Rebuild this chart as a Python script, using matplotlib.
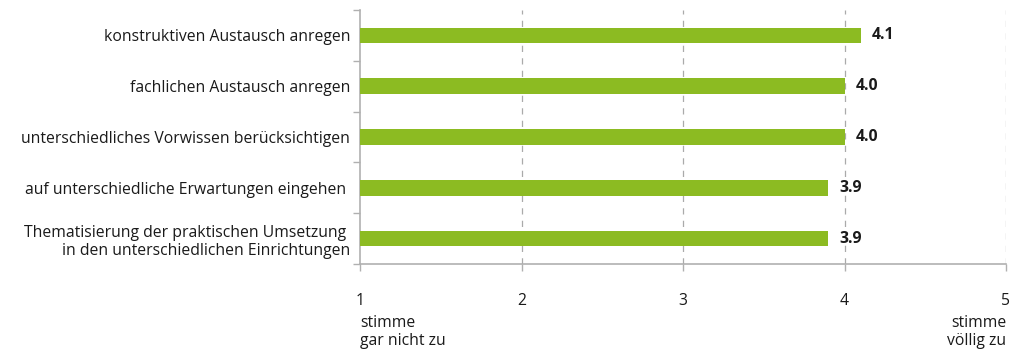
import matplotlib.pyplot as plt

plt.rcParams['font.family'] = ['Open Sans', 'DejaVu Sans']

# Data
categories = [
    "konstruktiven Austausch anregen",
    "fachlichen Austausch anregen",
    "unterschiedliches Vorwissen berücksichtigen",
    "auf unterschiedliche Erwartungen eingehen ",
    "Thematisierung der praktischen Umsetzung \nin den unterschiedlichen Einrichtungen",
]
values = [4.1, 4.0, 4.0, 3.9, 3.9]
x_ticks = [1, 2, 3, 4, 5]

bar_color = '#8cbb22'
grid_color = '#aaaaaa'
spine_color = '#b0b0b0'
text_color = '#1a1a1a'
fs = 11.3

fig = plt.figure(figsize=(10.19, 3.51), dpi=100)
ax = fig.add_axes([360 / 1019, 1 - 264 / 351, (1006 - 360) / 1019, (264 - 10) / 351])

n = len(categories)
y_pos = list(range(n))[::-1]  # first category at top

# bars start at the left axis value 1
ax.barh(y_pos, [v - 1 for v in values], left=1, height=0.31, color=bar_color, zorder=3)

for y, v in zip(y_pos, values):
    ax.annotate(f"{v:.1f}", xy=(v, y), xytext=(8, 0), textcoords='offset points',
                ha='left', va='center', fontsize=fs, fontweight='bold', color=text_color)

ax.set_xlim(1, 5)
ax.set_ylim(-0.5, n - 0.5)

# dashed grid lines
for xv in x_ticks[1:]:
    ax.axvline(xv, color=grid_color, linestyle=(0, (5, 5)), linewidth=0.9, zorder=1)

# y axis: labels at category centres, ticks at boundaries
ax.set_yticks(y_pos)
ax.set_yticklabels(categories, fontsize=fs, color=text_color, linespacing=1.2)
ax.tick_params(axis='y', length=0, pad=7)
ax.set_yticks([i - 0.5 for i in range(n + 1)], minor=True)
ax.tick_params(axis='y', which='minor', length=5, color=spine_color, width=1)

ax.set_xticks(x_ticks)
ax.set_xticklabels([str(t) for t in x_ticks], fontsize=fs, color=text_color)
ax.tick_params(axis='x', length=5, color=spine_color, width=1, pad=16)

for side in ['top', 'right']:
    ax.spines[side].set_visible(False)
for side in ['left', 'bottom']:
    ax.spines[side].set_color(spine_color)
    ax.spines[side].set_linewidth(1.2)

# scale end labels below the tick numbers
trans = ax.get_xaxis_transform()
ax.text(1, -0.2, "stimme\ngar nicht zu", ha='left', va='top', fontsize=fs,
        color=text_color, transform=trans, linespacing=1.15)
ax.text(5, -0.2, "stimme\nvöllig zu", ha='right', va='top', fontsize=fs,
        color=text_color, transform=trans, linespacing=1.15)

fig.savefig('out.png', dpi=100)
